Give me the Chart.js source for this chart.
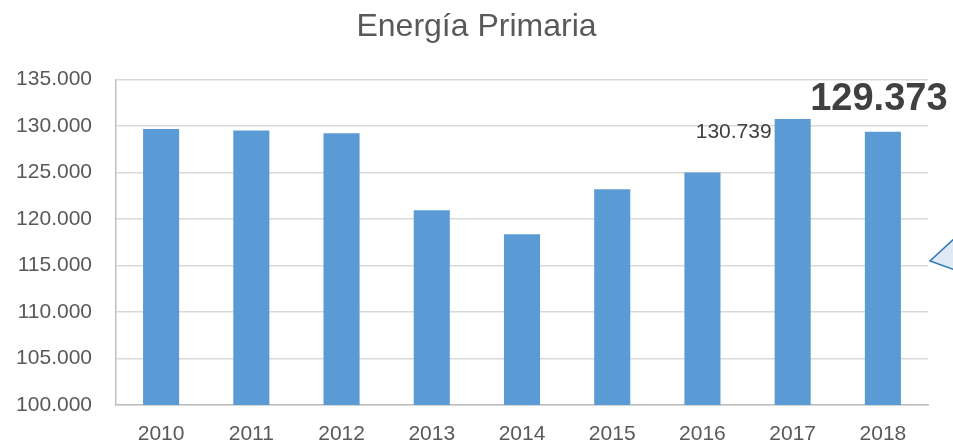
<!DOCTYPE html>
<html>
<head>
<meta charset="utf-8">
<script src="https://cdn.jsdelivr.net/npm/chart.js@4"></script>
<style>
  html, body { margin: 0; padding: 0; background: #fff; }
  #wrap { width: 953px; height: 446px; }
</style>
</head>
<body>
<div id="wrap"><canvas id="energia"></canvas></div>
<script>
// datos
const years = ['2010', '2011', '2012', '2013', '2014', '2015', '2016', '2017', '2018'];
const energiaPrimaria = [129680, 129520, 129200, 120930, 118350, 123200, 125000, 130739, 129373];
const yTicks = [100000, 105000, 110000, 115000, 120000, 125000, 130000, 135000];

const fmt = v => v.toLocaleString('de-DE');
const font = '"Liberation Sans", Arial, sans-serif';

// etiquetas de 2017 / 2018 y el globo de la derecha
const extras = {
  id: 'extras',
  afterDatasetsDraw(chart) {
    const ctx = chart.ctx;
    const meta = chart.getDatasetMeta(0);
    const y = chart.scales.y;
    ctx.save();
    // 2017
    let b = meta.data[7];
    ctx.fillStyle = '#404040';
    ctx.font = '21px ' + font;
    ctx.textAlign = 'right';
    ctx.textBaseline = 'middle';
    ctx.fillText(fmt(energiaPrimaria[7]), b.x - b.width / 2 - 3, y.getPixelForValue(energiaPrimaria[7]) + 13);
    // 2018
    b = meta.data[8];
    ctx.font = 'bold 38px ' + font;
    ctx.textAlign = 'center';
    ctx.fillText(fmt(energiaPrimaria[8]), b.x - 4, y.getPixelForValue(energiaPrimaria[8]) - 32);
    // callout
    ctx.beginPath();
    ctx.moveTo(955, 238);
    ctx.lineTo(930, 261);
    ctx.lineTo(955, 270);
    ctx.fillStyle = '#DEEBF7';
    ctx.fill();
    ctx.strokeStyle = '#2E75B6';
    ctx.lineWidth = 1.5;
    ctx.stroke();
    ctx.restore();
  }
};

new Chart(document.getElementById('energia'), {
  type: 'bar',
  data: {
    labels: years,
    datasets: [{
      label: 'Energía Primaria',
      data: energiaPrimaria,
      backgroundColor: '#5B9BD5',
      borderWidth: 0,
      categoryPercentage: 1,
      barPercentage: 0.4,
    }]
  },
  options: {
    responsive: true,
    maintainAspectRatio: false,
    animation: false,
    layout: { padding: 0 },
    plugins: {
      legend: { display: false },
      tooltip: { enabled: false },
      title: {
        display: true,
        text: 'Energía Primaria',
        color: '#595959',
        font: { family: font, size: 32, weight: 'normal' },
        padding: { top: 8, bottom: 33 }
      }
    },
    scales: {
      x: {
        afterFit: s => { s.height = 41; },
        grid: { display: false, drawTicks: false },
        border: { color: '#BFBFBF', width: 1.5 },
        ticks: { color: '#595959', font: { family: font, size: 21 }, padding: 17, maxRotation: 0 }
      },
      y: {
        min: 100000,
        max: 135000,
        afterBuildTicks: s => { s.ticks = yTicks.map(v => ({ value: v })); },
        afterFit: s => { s.width = 116; },
        grid: { color: '#D9D9D9', lineWidth: 1.5, drawTicks: false },
        border: { color: '#BFBFBF', width: 1.5 },
        ticks: { color: '#595959', font: { family: font, size: 21 }, padding: 24, callback: v => fmt(v) }
      },
      // espacio vacío a la derecha
      yRight: {
        position: 'right',
        afterFit: s => { s.width = 25; },
        grid: { display: false, drawTicks: false },
        border: { display: false },
        ticks: { display: false }
      }
    }
  },
  plugins: [extras]
});
</script>
</body>
</html>
